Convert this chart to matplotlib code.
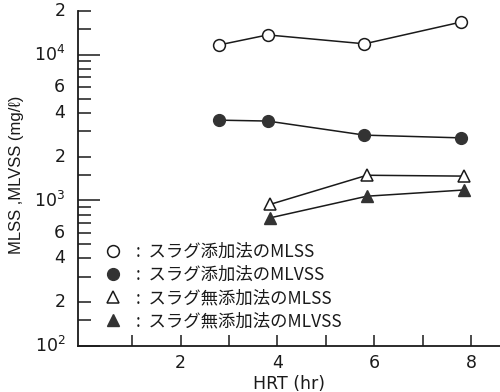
import matplotlib
matplotlib.use("Agg")
import matplotlib.pyplot as plt
from matplotlib.ticker import FixedLocator, NullFormatter

plt.rcParams['font.family'] = ['DejaVu Sans', 'Noto Sans CJK JP']
plt.rcParams['mathtext.default'] = 'regular'

# HRT (hr) vs. sludge concentration (mg/l)
hrt_circle = [2.8, 3.8, 5.8, 7.8]
mlss_slag = [11700, 13700, 11900, 16800]
mlvss_slag = [3560, 3510, 2810, 2690]

hrt_tri = [3.85, 5.85, 7.85]
mlss_noslag = [940, 1490, 1470]
mlvss_noslag = [760, 1070, 1180]

labels = [":  スラグ添加法のMLSS",
          ":  スラグ添加法のMLVSS",
          ":  スラグ無添加法のMLSS",
          ":  スラグ無添加法のMLVSS"]

y_major = [100, 1000, 10000]
y_minor = [m * d for d in (100, 1000, 10000) for m in (1.5, 2, 3, 4, 5, 6, 7, 8, 9)]
y_minor = [v for v in y_minor if v <= 20000]
y_labelled = {100: '$10^2$', 200: '2', 400: '4', 600: '6',
              1000: '$10^3$', 2000: '2', 4000: '4', 6000: '6',
              10000: '$10^4$', 20000: '2'}

ink = '#1a1a1a'
fill = '#333333'

fig = plt.figure(figsize=(5.0, 3.92), dpi=100)
ax = fig.add_axes([0.156, 0.117, 0.844, 0.855])

ax.plot(hrt_circle, mlss_slag, color=ink, lw=1.1, marker='o', ms=8.5,
        mfc='white', mec=ink, mew=1.1, label=labels[0])
ax.plot(hrt_circle, mlvss_slag, color=ink, lw=1.1, marker='o', ms=8.5,
        mfc=fill, mec=fill, label=labels[1])
ax.plot(hrt_tri, mlss_noslag, color=ink, lw=1.1, marker='^', ms=8.5,
        mfc='white', mec=ink, mew=1.1, label=labels[2])
ax.plot(hrt_tri, mlvss_noslag, color=ink, lw=1.1, marker='^', ms=8.5,
        mfc=fill, mec=fill, label=labels[3])

ax.set_yscale('log')
ax.set_ylim(100, 20000)
ax.set_xlim(-0.12, 8.6)

ax.yaxis.set_major_locator(FixedLocator(y_major))
ax.yaxis.set_minor_locator(FixedLocator(y_minor))
ax.yaxis.set_major_formatter(NullFormatter())
ax.yaxis.set_minor_formatter(NullFormatter())
for v, s in y_labelled.items():
    ax.text(-0.03, v, s, transform=ax.get_yaxis_transform(), ha='right',
            va='center', fontsize=12.5, color=ink)

ax.set_xticks([1, 2, 3, 4, 5, 6, 7, 8])
ax.set_xticklabels(['', '2', '', '4', '', '6', '', '8'], fontsize=12.5, color=ink)

ax.tick_params(axis='y', which='major', direction='in', length=16, width=1.1, color=ink)
ax.tick_params(axis='y', which='minor', direction='in', length=9, width=1.1, color=ink)
ax.tick_params(axis='x', which='major', direction='in', length=8, width=1.1,
               color=ink, pad=6)

for side in ('top', 'right'):
    ax.spines[side].set_visible(False)
for side in ('left', 'bottom'):
    ax.spines[side].set_linewidth(1.3)
    ax.spines[side].set_color(ink)

ax.set_xlabel('HRT (hr)', fontsize=12.5, color=ink, labelpad=2)
ax.set_ylabel('MLSS ,MLVSS (mg/ℓ)', fontsize=12, color=ink,
              family=['Liberation Sans', 'DejaVu Sans'])
ax.yaxis.set_label_coords(-0.128, 0.51)

leg = ax.legend(loc='lower left', bbox_to_anchor=(0.03, 0.0), frameon=False,
                handlelength=0.8, handletextpad=0.9, labelspacing=0.3,
                prop={'family': ['Noto Sans CJK JP'], 'size': 12.5})
for h in leg.legend_handles:
    h.set_linestyle('none')
for t in leg.get_texts():
    t.set_color(ink)

fig.savefig('out.png', dpi=100)
